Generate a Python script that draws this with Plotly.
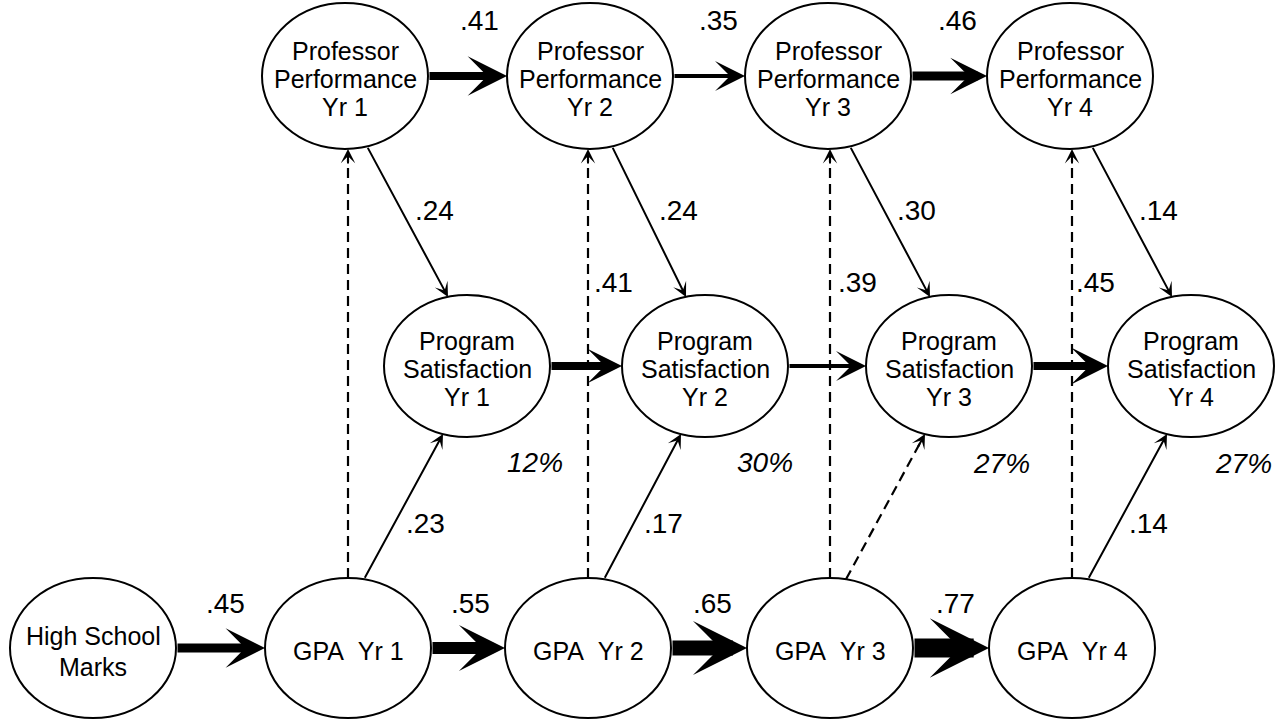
import math
import plotly.graph_objects as go

# ---------------- data ----------------
prof_labels = ["Professor<br>Performance<br>Yr 1", "Professor<br>Performance<br>Yr 2",
               "Professor<br>Performance<br>Yr 3", "Professor<br>Performance<br>Yr 4"]
sat_labels = ["Program<br>Satisfaction<br>Yr 1", "Program<br>Satisfaction<br>Yr 2",
              "Program<br>Satisfaction<br>Yr 3", "Program<br>Satisfaction<br>Yr 4"]
gpa_labels = ["High School<br>Marks", "GPA  Yr 1", "GPA  Yr 2", "GPA  Yr 3", "GPA  Yr 4"]

prof_stability = [".41", ".35", ".46"]          # Prof Yr k -> Yr k+1
gpa_stability = [".45", ".55", ".65", ".77"]    # HS -> GPA1, GPA k -> GPA k+1
prof_to_sat = [".24", ".24", ".30", ".14"]      # Prof Yr k -> Sat Yr k
gpa_to_prof = ["", ".41", ".39", ".45"]         # GPA Yr k -> Prof Yr k (dashed)
gpa_to_sat = [".23", ".17", "", ".14"]          # GPA Yr k -> Sat Yr k
sat_r2 = ["12%", "30%", "27%", "27%"]           # variance explained

# ---------------- layout / style ----------------
W, H = 1279, 720
prof_x = [345, 590, 828, 1070]
prof_y = 76
sat_x = [467, 705, 949, 1191]
sat_y = 366
gpa_x = [93, 348, 588, 830, 1072]
gpa_y = 648
RX = 83
RY_PROF, RY_SAT, RY_GPA = 73, 71, 70

prof_arrow_w = [8, 4, 9]
prof_arrow_s = [0.82, 1.25, 0.68]
sat_arrow_w = [8, 4, 8]
sat_arrow_s = [0.72, 1.25, 0.77]
gpa_arrow_w = [9, 12, 15, 19]
gpa_arrow_s = [0.73, 0.64, 0.6, 0.52]
THIN_W, THIN_S = 2, 1.2
gpa_to_sat_dashed = [False, False, True, False]

prof_stab_pos = [(479, 20), (718, 20), (957, 20)]
gpa_stab_pos = [(225, 603), (470, 603), (712, 603), (955, 603)]
prof_sat_pos = [(434, 210), (678, 210), (916, 210), (1158, 210)]
gpa_prof_pos = [None, (613, 282), (857, 282), (1095, 282)]
gpa_sat_pos = [(425, 523), (663, 523), None, (1148, 523)]
r2_pos = [(535, 462), (765, 462), (1001, 463), (1243, 463)]

FONT = "Liberation Sans, Arial, sans-serif"
NODE_FS = 25
COEF_FS = 28
LINE_GAP = 28.2

shapes = []
annotations = []


def ellipse(cx, cy, rx, ry):
    shapes.append(dict(type="circle", xref="x", yref="y",
                       x0=cx - rx, x1=cx + rx, y0=cy - ry, y1=cy + ry,
                       line=dict(color="black", width=2), fillcolor="white",
                       layer="above"))


def node_text(cx, cy, label):
    lines = label.split("<br>")
    n = len(lines)
    gap = LINE_GAP if n > 2 else 31
    for i, ln in enumerate(lines):
        off = (i - (n - 1) / 2) * gap + 3
        annotations.append(dict(x=cx, y=cy + off, xref="x", yref="y",
                                text=ln.replace("  ", "\u00a0\u00a0"), showarrow=False,
                                font=dict(family=FONT, size=NODE_FS, color="black"),
                                xanchor="center", yanchor="middle", borderpad=0))


def edge_y(cy, ry, dx, sign):
    return cy + sign * ry * math.sqrt(max(0.0, 1 - (dx / RX) ** 2))


def arrow(x0, y0, x1, y1, w, s):
    annotations.append(dict(x=x1, y=y1, ax=x0, ay=y0, xref="x", yref="y",
                            axref="x", ayref="y", text="", showarrow=True,
                            arrowhead=3, arrowsize=s, arrowwidth=w,
                            arrowcolor="black", standoff=0, startstandoff=0))


def dashed_arrow(x0, y0, x1, y1):
    L = math.hypot(x1 - x0, y1 - y0)
    ux, uy = (x1 - x0) / L, (y1 - y0) / L
    shapes.append(dict(type="line", xref="x", yref="y", x0=x0, y0=y0,
                       x1=x1 - 10 * ux, y1=y1 - 10 * uy,
                       line=dict(color="black", width=2.2, dash="10px,6px"),
                       layer="below"))
    arrow(x1 - 16 * ux, y1 - 16 * uy, x1, y1, THIN_W, THIN_S)


def label(pos, text, italic=False):
    if pos is None or not text:
        return
    annotations.append(dict(x=pos[0], y=pos[1], xref="x", yref="y", text=text,
                            showarrow=False,
                            font=dict(family=FONT, size=COEF_FS, color="black",
                                      style="italic" if italic else "normal"),
                            xanchor="center", yanchor="middle"))


# nodes
for cx, lab in zip(prof_x, prof_labels):
    ellipse(cx, prof_y, RX, RY_PROF)
    node_text(cx, prof_y, lab)
for cx, lab in zip(sat_x, sat_labels):
    ellipse(cx, sat_y, RX, RY_SAT)
    node_text(cx, sat_y, lab)
for cx, lab in zip(gpa_x, gpa_labels):
    ellipse(cx, gpa_y, RX, RY_GPA)
    node_text(cx, gpa_y, lab)

# horizontal paths
for i, txt in enumerate(prof_stability):
    arrow(prof_x[i] + RX, prof_y, prof_x[i + 1] - RX, prof_y, prof_arrow_w[i], prof_arrow_s[i])
    label(prof_stab_pos[i], txt)
for i in range(len(sat_x) - 1):
    arrow(sat_x[i] + RX, sat_y, sat_x[i + 1] - RX, sat_y, sat_arrow_w[i], sat_arrow_s[i])
for i, txt in enumerate(gpa_stability):
    arrow(gpa_x[i] + RX, gpa_y, gpa_x[i + 1] - RX, gpa_y, gpa_arrow_w[i], gpa_arrow_s[i])
    label(gpa_stab_pos[i], txt)

# cross-lagged / within-year paths
for k in range(4):
    # professor -> satisfaction
    sx = prof_x[k] + 22
    ex = sat_x[k] - 19
    arrow(sx, edge_y(prof_y, RY_PROF, 22, 1), ex, edge_y(sat_y, RY_SAT, -19, -1), THIN_W, THIN_S)
    label(prof_sat_pos[k], prof_to_sat[k])
    # gpa -> professor (dashed)
    gx = gpa_x[k + 1]
    dashed_arrow(gx, gpa_y - RY_GPA, gx, edge_y(prof_y, RY_PROF, gx - prof_x[k], 1))
    label(gpa_prof_pos[k], gpa_to_prof[k])
    # gpa -> satisfaction
    sx = gpa_x[k + 1] + 16
    ex = sat_x[k] - 24
    y0 = edge_y(gpa_y, RY_GPA, 16, -1)
    y1 = edge_y(sat_y, RY_SAT, -24, 1)
    if gpa_to_sat_dashed[k]:
        dashed_arrow(sx, y0, ex, y1)
    else:
        arrow(sx, y0, ex, y1, THIN_W, THIN_S)
    label(gpa_sat_pos[k], gpa_to_sat[k])
    label(r2_pos[k], sat_r2[k], italic=True)

fig = go.Figure()
fig.add_trace(go.Scatter(x=[], y=[], mode="markers", showlegend=False, hoverinfo="skip"))
fig.update_layout(
    width=W, height=H, margin=dict(l=0, r=0, t=0, b=0),
    paper_bgcolor="white", plot_bgcolor="white",
    xaxis=dict(range=[0, W], visible=False, fixedrange=True),
    yaxis=dict(range=[H, 0], visible=False, fixedrange=True),
    shapes=shapes, annotations=annotations, showlegend=False,
)
fig.write_html("out.html", config={"displayModeBar": False},
               post_script="document.body.style.margin='0px';document.body.style.overflow='hidden';")
